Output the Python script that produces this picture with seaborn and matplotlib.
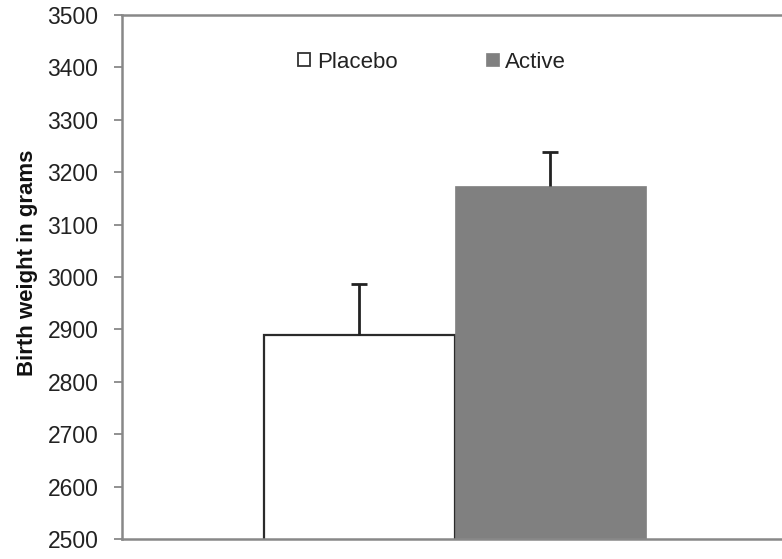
import matplotlib
matplotlib.use("Agg")
import matplotlib.pyplot as plt
from matplotlib.patches import Patch
import seaborn as sns
import pandas as pd

groups = ["Placebo", "Active"]
birth_weight = [2889, 3173]
sem_upper = [98, 65]
y_ticks = [2500, 2600, 2700, 2800, 2900, 3000, 3100, 3200, 3300, 3400, 3500]
y_label = "Birth weight in grams"

colors = {"Placebo": "#ffffff", "Active": "#808080"}
edges = {"Placebo": "#2b2b2b", "Active": "#808080"}

sns.set_style("white")
plt.rcParams["font.family"] = ["Liberation Sans", "DejaVu Sans"]

df = pd.DataFrame({"group": groups, "weight": birth_weight})

fig = plt.figure(figsize=(7.82, 5.59), dpi=100)
W, H = 782, 559
left_px, right_px, top_px, bottom_px = 122, 782, 15, 539
ax = fig.add_axes([left_px / W, 1 - bottom_px / H, (right_px - left_px) / W, (bottom_px - top_px) / H])

sns.barplot(data=df, x="group", y="weight", hue="group", palette=colors,
            width=1.0, errorbar=None, legend=False, ax=ax, saturation=1)
for patch, g in zip(ax.patches, groups):
    patch.set_edgecolor(edges[g])
    patch.set_linewidth(1.6 if g == "Placebo" else 0.5)

eb = ax.errorbar(x=[0, 1], y=birth_weight, yerr=[[0, 0], sem_upper], fmt="none",
                 ecolor="#222222", elinewidth=2.0, capsize=5.5, capthick=2.0, zorder=1)
caplines = eb.lines[1]
if len(caplines) >= 2:
    caplines[0].set_visible(False)

ax.set_ylim(2500, 3500)
ax.set_yticks(y_ticks)
ax.set_yticklabels([str(t) for t in y_ticks], fontsize=16.5, color="#222222")
ax.set_xlim(-1.243, 2.212)
ax.set_xticks([])
ax.set_xlabel("")
ax.set_ylabel(y_label, fontsize=16, fontweight="bold", color="#111111")
ax.yaxis.set_label_coords(-0.128, 0.527)

ax.tick_params(axis="y", which="major", direction="out", length=6, width=1.3,
               color="#888888", pad=11, left=True)

for side in ["left", "bottom", "top"]:
    ax.spines[side].set_visible(True)
    ax.spines[side].set_color("#888888")
    ax.spines[side].set_linewidth(1.8)
ax.spines["right"].set_visible(False)

handles = [Patch(facecolor="#ffffff", edgecolor="#333333", linewidth=1.3, label="Placebo"),
           Patch(facecolor="#808080", edgecolor="#808080", linewidth=0.5, label="Active")]
leg = ax.legend(handles=handles, ncol=2, frameon=False, loc="center",
                bbox_to_anchor=((432 - left_px) / (right_px - left_px), (bottom_px - 62) / (bottom_px - top_px)),
                fontsize=16, handlelength=0.55, handleheight=0.55, handletextpad=0.3,
                columnspacing=4.0)
for t in leg.get_texts():
    t.set_color("#222222")

fig.savefig("out.png", dpi=100)
